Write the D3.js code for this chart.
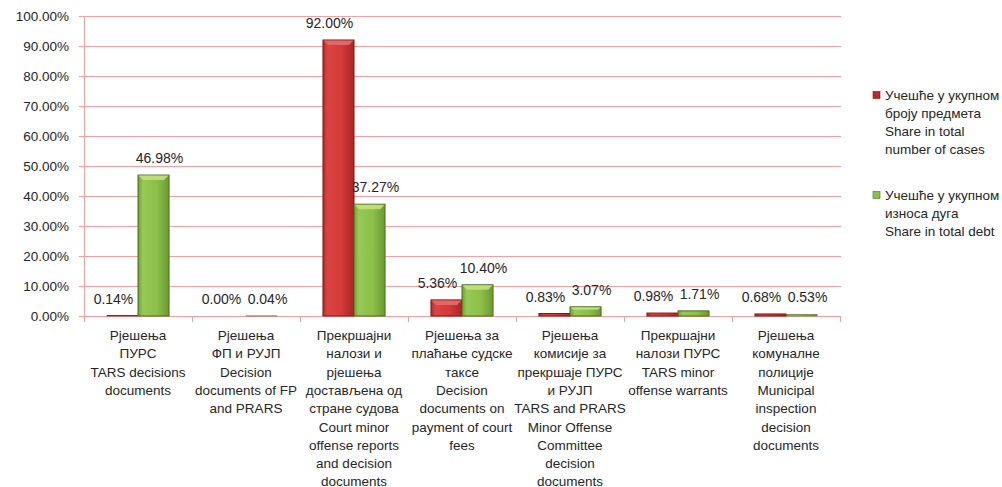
<!DOCTYPE html>
<html>
<head>
<meta charset="utf-8">
<script src="https://cdn.jsdelivr.net/npm/d3@7"></script>
<style>
  body { margin: 0; background: #fff; }
  text { font-family: "Liberation Sans", Arial, sans-serif; fill: #262626; }
</style>
</head>
<body>
<svg width="1002" height="487"></svg>
<script>
// chart data
const categories = [
    ["Рјешења", "ПУРС", "TARS decisions", "documents"],
    ["Рјешења", "ФП и РУЈП", "Decision", "documents of FP", "and PRARS"],
    ["Прекршајни", "налози и", "рјешења", "достављена од", "стране судова", "Court minor", "offense reports", "and decision", "documents"],
    ["Рјешења за", "плаћање судске", "таксе", "Decision", "documents on", "payment of court", "fees"],
    ["Рјешења", "комисије за", "прекршаје ПУРС", "и РУЈП", "TARS and PRARS", "Minor Offense", "Committee", "decision", "documents"],
    ["Прекршајни", "налози ПУРС", "TARS minor", "offense warrants"],
    ["Рјешења", "комуналне", "полиције", "Municipal", "inspection", "decision", "documents"]
];
const shareCases = [0.14, 0.00, 92.00, 5.36, 0.83, 0.98, 0.68];
const shareDebt = [46.98, 0.04, 37.27, 10.40, 3.07, 1.71, 0.53];
const seriesNames = [
    ["Учешће у укупном", "броју предмета", "Share in total", "number of cases"],
    ["Учешће у укупном", "износа дуга", "Share in total debt"]
];
const yTicks = [0, 10, 20, 30, 40, 50, 60, 70, 80, 90, 100];

const svg = d3.select("svg");
const gridColor = "#eba3a3";
const fs = "13.5px";

const x = d3.scaleBand()
    .domain(d3.range(categories.length))
    .range([84, 840]);

const xInner = d3.scaleBand()
    .domain([0, 1])
    .range([0, x.bandwidth()])
    .paddingOuter(0.74)
    .paddingInner(0);

const y = d3.scaleLinear()
    .domain([0, 100])
    .range([316, 16]);

// gradients
const defs = svg.append("defs");
function grad(id, stops) {
    const g = defs.append("linearGradient").attr("id", id)
        .attr("x1", 0).attr("x2", 1).attr("y1", 0).attr("y2", 0);
    stops.forEach(s => g.append("stop").attr("offset", s[0]).attr("stop-color", s[1]));
}
grad("redG", [[0, "#b32b2b"], [0.15, "#de4343"], [0.6, "#d33a3a"], [1, "#a92626"]]);
grad("greenG", [[0, "#6e9e34"], [0.15, "#97c955"], [0.6, "#8cc04a"], [1, "#6b9a30"]]);

// gridlines
svg.append("g")
    .selectAll("line")
    .data(yTicks)
    .join("line")
    .attr("x1", 79)
    .attr("x2", 841)
    .attr("y1", d => Math.round(y(d)) + 0.5)
    .attr("y2", d => Math.round(y(d)) + 0.5)
    .attr("stroke", gridColor)
    .attr("stroke-width", 1);

// y axis line
svg.append("line")
    .attr("x1", 84.5).attr("x2", 84.5)
    .attr("y1", y(100)).attr("y2", y(0))
    .attr("stroke", gridColor);

// x ticks
svg.append("g")
    .selectAll("line")
    .data(d3.range(categories.length + 1))
    .join("line")
    .attr("x1", d => Math.round(84 + d * x.bandwidth()) + 0.5)
    .attr("x2", d => Math.round(84 + d * x.bandwidth()) + 0.5)
    .attr("y1", y(0))
    .attr("y2", y(0) + 6)
    .attr("stroke", gridColor);

// y labels
svg.append("g")
    .selectAll("text")
    .data(yTicks)
    .join("text")
    .attr("x", 69)
    .attr("y", d => y(d) + 5)
    .attr("text-anchor", "end")
    .style("font-size", fs)
    .text(d => d.toFixed(2) + "%");

// bars
const series = [
    { values: shareCases, fill: "url(#redG)", stroke: "#7d1717", bevel: "#e86a6a", dx: -9 },
    { values: shareDebt, fill: "url(#greenG)", stroke: "#4a6e1e", bevel: "#c2e07e", dx: 6 }
];

series.forEach((s, si) => {
    const g = svg.append("g");
    s.values.forEach((v, i) => {
        const x0 = x(i) + xInner(si);
        const w = xInner.bandwidth();
        const top = y(v);
        const h = y(0) - top;
        g.append("rect")
            .attr("x", x0).attr("y", top)
            .attr("width", w).attr("height", h)
            .attr("fill", s.fill)
            .attr("stroke", s.stroke)
            .attr("stroke-width", h > 2 ? 1 : 0.6);
        if (h > 6) {
            const b = Math.min(5, h / 3);
            g.append("path")
                .attr("d", `M${x0 + 0.5},${top + 0.5} L${x0 + w - 0.5},${top + 0.5} L${x0 + w - b},${top + b} L${x0 + b},${top + b} Z`)
                .attr("fill", s.bevel)
                .attr("opacity", 0.9);
        }
        g.append("text")
            .attr("x", x0 + w / 2 + s.dx)
            .attr("y", top - 12)
            .attr("text-anchor", "middle")
            .style("font-size", "14px")
            .text(v.toFixed(2) + "%");
    });
});

// category labels
svg.append("g")
    .selectAll("text")
    .data(categories)
    .join("text")
    .attr("text-anchor", "middle")
    .style("font-size", fs)
    .each(function (d, i) {
        d3.select(this).selectAll("tspan")
            .data(d)
            .join("tspan")
            .attr("x", x(i) + x.bandwidth() / 2)
            .attr("y", (l, j) => 340 + j * 18.3)
            .text(l => l);
    });

// legend
const legendY = [95, 195];
const legendColors = [["#c0292b", "#7d1717"], ["#8cc04a", "#4a6e1e"]];
seriesNames.forEach((lines, i) => {
    const lg = svg.append("g");
    lg.append("rect")
        .attr("x", 873).attr("y", legendY[i] - 3.5)
        .attr("width", 7).attr("height", 7)
        .attr("fill", legendColors[i][0])
        .attr("stroke", legendColors[i][1])
        .attr("stroke-width", 0.6);
    lg.append("text")
        .style("font-size", fs)
        .selectAll("tspan")
        .data(lines)
        .join("tspan")
        .attr("x", 885)
        .attr("y", (l, j) => legendY[i] + 5 + j * 18)
        .text(l => l);
});
</script>
</body>
</html>
